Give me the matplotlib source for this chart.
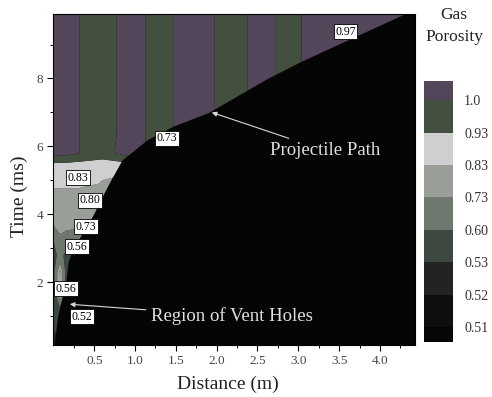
import numpy as np
import matplotlib
matplotlib.use("Agg")
import matplotlib.pyplot as plt
from matplotlib.colors import ListedColormap, BoundaryNorm

plt.rcParams["font.family"] = ["Liberation Serif", "DejaVu Serif"]

# porosity sampled on a coarse (time, distance) grid behind the projectile
dist_grid = [0.0, 0.08, 0.16, 0.32, 0.6, 0.95, 1.3, 1.65, 1.92, 2.2, 2.55, 2.88, 3.2, 3.8, 4.5]
time_grid = [0.0, 1.2, 1.7, 2.3, 2.8, 3.2, 3.7, 4.3, 4.7, 4.9, 5.3, 5.8, 6.4, 10.2]

stripes = [1.04, 1.04, 1.03, 1.0, 0.96, 1.04, 0.96, 1.04, 1.01, 0.96, 1.04, 0.96, 1.04, 1.03, 1.03]
rest = [0.505] * 9
row_t00 = [0.525, 0.52, 0.515, 0.505, 0.505, 0.505] + rest
row_t12 = [0.535, 0.56, 0.515, 0.505, 0.505, 0.505] + rest
row_t17 = [0.55, 0.88, 0.53, 0.505, 0.505, 0.505] + rest
row_t23 = [0.56, 0.86, 0.54, 0.51, 0.505, 0.505] + rest
row_t28 = [0.58, 0.62, 0.58, 0.53, 0.505, 0.505] + rest
row_t32 = [0.60, 0.70, 0.66, 0.60, 0.52, 0.505] + rest
row_t37 = [0.74, 0.77, 0.77, 0.76, 0.70, 0.505] + rest
row_t43 = [0.79, 0.79, 0.79, 0.79, 0.78, 0.60] + rest
row_t47 = [0.80, 0.80, 0.80, 0.80, 0.80, 0.70] + rest
row_t49 = [0.90, 0.90, 0.90, 0.88, 0.82, 0.75] + rest
row_t53 = [0.86, 0.86, 0.86, 0.86, 0.86, 0.85] + rest
row_t58 = [1.02, 1.02, 1.02, 1.0, 0.97] + stripes[5:]

# leading edge of the projectile (time in ms, distance in m)
path_time = [0.0, 1.0, 2.0, 2.6, 3.0, 3.5, 4.0, 4.4, 5.0, 5.6, 6.2, 6.6, 7.0, 8.0, 8.5, 9.0, 9.9, 10.2]
path_dist = [0.0, 0.05, 0.15, 0.18, 0.24, 0.37, 0.49, 0.57, 0.70, 0.84, 1.15, 1.47, 1.90, 2.62, 3.03, 3.48, 4.30, 4.50]

levels = [0.51, 0.52, 0.53, 0.60, 0.73, 0.83, 0.93, 1.0]
level_labels = ["0.51", "0.52", "0.53", "0.60", "0.73", "0.83", "0.93", "1.0"]
band_colors = ["#0e0e0e", "#222423", "#3e4840", "#6e786e", "#9a9e98", "#cfcfd1", "#43503f"]
under_color = "#060606"
over_color = "#54465a"

label_text = ["0.97", "0.73", "0.83", "0.80", "0.73", "0.56", "0.56", "0.52"]
label_x = [3.58, 1.39, 0.30, 0.45, 0.40, 0.29, 0.15, 0.35]
label_y = [9.38, 6.24, 5.08, 4.41, 3.63, 3.04, 1.81, 0.98]

porosity = np.array([row_t00, row_t12, row_t17, row_t23, row_t28, row_t32, row_t37,
                     row_t43, row_t47, row_t49, row_t53, row_t58, stripes, stripes])

cmap = ListedColormap(band_colors)
cmap.set_under(under_color)
cmap.set_over(over_color)
norm = BoundaryNorm(levels, cmap.N)

fig = plt.figure(figsize=(4.92, 3.97), dpi=100)
ax = fig.add_axes([0.1087, 0.131, 0.7348, 0.8338])
ax.set_facecolor("black")

cs = ax.contourf(dist_grid, time_grid, porosity, levels=levels, cmap=cmap,
                 norm=norm, extend="both", antialiased=True)

# undisturbed gas ahead of the projectile
ax.fill_betweenx(path_time, path_dist, 4.6, color="#050505", lw=0)

for txt, x, y in zip(label_text, label_x, label_y):
    ax.text(x, y, txt, fontsize=8.5, ha="center", va="center", color="black",
            bbox=dict(boxstyle="square,pad=0.12", fc="white", ec="black", lw=0.6),
            zorder=5, clip_on=False)

ax.annotate("Projectile Path", xy=(1.94, 7.0), xytext=(2.65, 5.88),
            color="#e0e0e0", fontsize=13.5, va="center", ha="left",
            arrowprops=dict(arrowstyle="-|>", color="#d8d8d8", lw=0.8,
                            mutation_scale=7, shrinkA=2, shrinkB=0))
ax.annotate("Region of Vent Holes", xy=(0.2, 1.35), xytext=(1.2, 1.0),
            color="#e0e0e0", fontsize=13.5, va="center", ha="left",
            arrowprops=dict(arrowstyle="-|>", color="#d8d8d8", lw=0.8,
                            mutation_scale=7, shrinkA=2, shrinkB=0))

ax.set_xlim(0, 4.43)
ax.set_ylim(0.15, 9.9)
ax.set_xticks([0.5, 1.0, 1.5, 2.0, 2.5, 3.0, 3.5, 4.0])
ax.set_xticks(np.arange(0.25, 4.3, 0.25), minor=True)
ax.set_yticks([2, 4, 6, 8])
ax.set_yticks([1, 3, 5, 7, 9], minor=True)
ax.tick_params(which="major", direction="out", length=4, width=0.8,
               labelsize=9.5, labelcolor="#444444")
ax.tick_params(which="minor", direction="out", length=2.5, width=0.7)
ax.set_xlabel("Distance (m)", fontsize=14, color="#222222")
ax.set_ylabel("Time (ms)", fontsize=14, color="#222222")
ax.xaxis.set_label_coords(0.483, -0.092)
ax.yaxis.set_label_coords(-0.071, 0.45)
for sp in ax.spines.values():
    sp.set_color("black")

cax = fig.add_axes([0.8618, 0.1385, 0.0589, 0.6574])
cb = fig.colorbar(cs, cax=cax, spacing="uniform", extendrect=True,
                  extendfrac=[0.066, 0.084])
cb.set_ticks(levels)
cb.set_ticklabels(level_labels)
cb.ax.tick_params(length=0, labelsize=10, labelcolor="#333333", pad=8)
cb.outline.set_visible(False)

fig.text(0.923, 0.962, "Gas", fontsize=12.5, ha="center", va="center", color="#222222")
fig.text(0.923, 0.907, "Porosity", fontsize=12.5, ha="center", va="center", color="#222222")

fig.savefig("out.png", dpi=100)
